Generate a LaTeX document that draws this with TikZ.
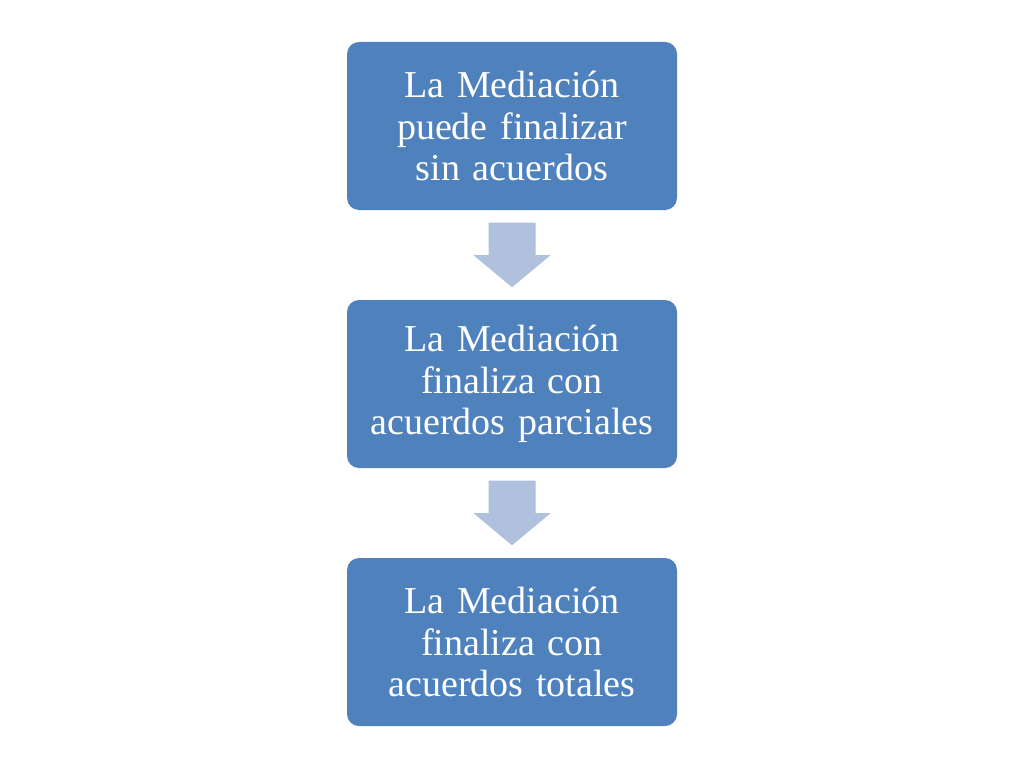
\documentclass[tikz,border=0pt]{standalone}
\usepackage{fontspec}
\setmainfont{Liberation Serif}
\usetikzlibrary{calc}
\definecolor{boxblue}{HTML}{4F81BD}
\definecolor{arrowblue}{HTML}{AFC1DD}
\begin{document}
\begin{tikzpicture}[x=1pt,y=-1pt,
  stepbox/.style={fill=boxblue,rounded corners=12pt,minimum width=330pt,minimum height=168pt,
    text width=326pt,align=center,text=white,font=\fontsize{38}{41.5}\selectfont,inner sep=0pt},
  blockarrow/.style={fill=arrowblue,draw=none}]
\useasboundingbox[fill=white] (0,0) rectangle (1024,768);
\node[stepbox] (a) at (512,126) {La Mediación\\puede finalizar\\sin acuerdos};
\node[stepbox] (b) at (512,384) {La Mediación\\finaliza con\\acuerdos parciales};
\node[stepbox] (c) at (512,642) {La Mediación\\finaliza con\\acuerdos totales};
\foreach \s/\t in {a/b,b/c}{
  \fill[blockarrow] ($(\s.south)+(-23.5,12.5)$) -- ($(\s.south)+(23.5,12.5)$) -- ($(\s.south)+(23.5,45)$)
    -- ($(\s.south)+(38.5,45)$) -- ($(\t.north)+(0,-12.5)$) -- ($(\s.south)+(-38.5,45)$)
    -- ($(\s.south)+(-23.5,45)$) -- cycle;
}
\end{tikzpicture}
\end{document}
